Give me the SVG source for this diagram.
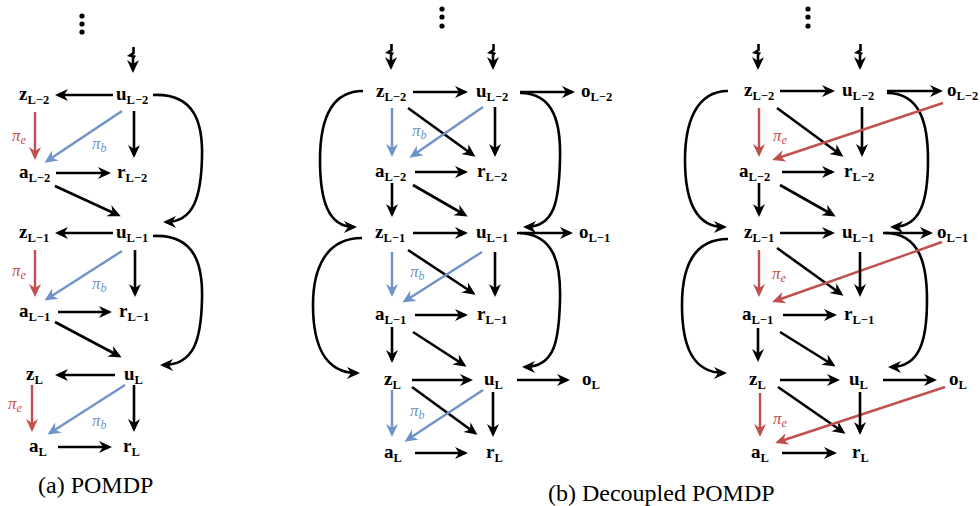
<svg xmlns="http://www.w3.org/2000/svg" width="980" height="506" viewBox="0 0 980 506">
<defs>
<marker id="hk" viewBox="-11 -7 15 14" refX="0" refY="0" markerWidth="15" markerHeight="14" markerUnits="userSpaceOnUse" orient="auto"><path d="M3,0 L-10,-6 L-6,0 L-10,6 Z" fill="#000"/></marker>
<marker id="hr" viewBox="-11 -7 15 14" refX="0" refY="0" markerWidth="15" markerHeight="14" markerUnits="userSpaceOnUse" orient="auto"><path d="M3,0 L-10,-6 L-6,0 L-10,6 Z" fill="#c0504d"/></marker>
<marker id="hb" viewBox="-11 -7 15 14" refX="0" refY="0" markerWidth="15" markerHeight="14" markerUnits="userSpaceOnUse" orient="auto"><path d="M3,0 L-10,-6 L-6,0 L-10,6 Z" fill="#6f93c8"/></marker>
</defs>
<style>
text{font-family:"Liberation Serif","Times New Roman","DejaVu Serif",serif}
.n{font-weight:bold;font-size:19px;fill:#000}
.s{font-size:12.5px}
.k{stroke:#000;stroke-width:2.6;fill:none;marker-end:url(#hk)}
.r{stroke:#c0504d;stroke-width:2.4;fill:none;marker-end:url(#hr)}
.b{stroke:#6f93c8;stroke-width:2.4;fill:none;marker-end:url(#hb)}
.pr{font-style:italic;font-size:17px;fill:#c0504d}
.pb{font-style:italic;font-size:17px;fill:#6f93c8}
.ps{font-size:12px}
.cap{font-size:24px;fill:#000}
.dot{fill:#000}
</style>

<g id="connectors">
<!-- panel a -->
<path class="k" d="M133.5,47 V53 L130,55.5 L134,56.5 L133,58 V70"/>
<path class="k" d="M113,95 H58"/>
<path class="k" d="M153,95 C196,93 203,125 202,158 C201,196 194,222 166,222"/>
<path class="r" d="M35,112 V157"/>
<path class="b" d="M122,111 L47,161"/>
<path class="k" d="M134,111 V155"/>
<path class="k" d="M56,173 H108"/>
<path class="k" d="M55,186 L118,215"/>
<path class="k" d="M113,233 H58"/>
<path class="r" d="M35,250 V294"/>
<path class="b" d="M122,251 L47,299"/>
<path class="k" d="M135,250 V294"/>
<path class="k" d="M58,312 H109"/>
<path class="k" d="M55,322 L119,356"/>
<path class="k" d="M153,236 C196,234 203,266 202,300 C201,340 194,365 163,365"/>
<path class="k" d="M115,375 H58"/>
<path class="r" d="M32,385 V429"/>
<path class="b" d="M125,385 L50,433"/>
<path class="k" d="M134,385 V429"/>
<path class="k" d="M58,447 H109"/>

<!-- panel b -->
<path class="k" d="M391.5,44 V50 L388,52.5 L392,53.5 L391,55 V67"/>
<path class="k" d="M493.5,44 V50 L490,52.5 L494,53.5 L493,55 V67"/>
<path class="k" d="M413,92 H465"/>
<path class="k" d="M520,92 H572"/>
<path class="k" d="M520,93 C555,93 561,125 560,160 C559,200 555,227 526,227"/>
<path class="k" d="M363,91 C328,91 320,125 320,160 C320,200 328,227 354,227"/>
<path class="b" d="M392,108 V154"/>
<path class="k" d="M408,108 L473,155"/>
<path class="b" d="M483,107 L412,156"/>
<path class="k" d="M495,107 V154"/>
<path class="k" d="M415,172 H465"/>
<path class="k" d="M392,183 V214"/>
<path class="k" d="M413,185 L465,215"/>
<path class="k" d="M413,233 H465"/>
<path class="k" d="M520,233 H570"/>
<path class="k" d="M517,233 C555,233 561,265 560,300 C559,340 555,367 525,367"/>
<path class="k" d="M362,238 C325,238 313,270 313,305 C313,345 325,373 357,373"/>
<path class="b" d="M392,252 V294"/>
<path class="k" d="M408,250 L473,293"/>
<path class="b" d="M482,252 L405,301"/>
<path class="k" d="M495,252 V294"/>
<path class="k" d="M415,315 H465"/>
<path class="k" d="M392,327 V360"/>
<path class="k" d="M413,332 L464,365"/>
<path class="k" d="M412,380 H470"/>
<path class="k" d="M517,380 H567"/>
<path class="b" d="M392,390 V434"/>
<path class="k" d="M412,387 L475,433"/>
<path class="b" d="M483,390 L407,440"/>
<path class="k" d="M493,392 V434"/>
<path class="k" d="M415,453 H465"/>

<!-- panel c -->
<path class="k" d="M758.5,44 V50 L755,52.5 L759,53.5 L758,55 V67"/>
<path class="k" d="M860.5,44 V50 L857,52.5 L861,53.5 L860,55 V67"/>
<path class="k" d="M780,91 H832"/>
<path class="k" d="M887,91 H940"/>
<path class="k" d="M887,93 C921,93 928,125 928,160 C928,200 921,227 893,227"/>
<path class="k" d="M728,91 C695,91 685,125 685,160 C685,200 695,227 724,227"/>
<path class="r" d="M759,108 V154"/>
<path class="k" d="M777,108 L841,155"/>
<path class="k" d="M862,107 V154"/>
<path class="r" d="M943,103 L775,159"/>
<path class="k" d="M782,172 H832"/>
<path class="k" d="M759,183 V214"/>
<path class="k" d="M780,185 L833,215"/>
<path class="k" d="M780,233 H832"/>
<path class="k" d="M883,233 H930"/>
<path class="k" d="M885,233 C920,233 927,265 927,300 C927,340 920,367 891,367"/>
<path class="k" d="M728,239 C692,239 682,270 682,305 C682,345 692,373 724,373"/>
<path class="r" d="M759,250 V294"/>
<path class="k" d="M777,248 L841,294"/>
<path class="r" d="M942,242 L775,301"/>
<path class="k" d="M860,252 V294"/>
<path class="k" d="M783,315 H834"/>
<path class="k" d="M758,328 V359"/>
<path class="k" d="M780,332 L833,365"/>
<path class="k" d="M780,380 H837"/>
<path class="k" d="M883,380 H934"/>
<path class="r" d="M760,393 V434"/>
<path class="k" d="M778,387 L843,432"/>
<path class="r" d="M945,387 L778,442"/>
<path class="k" d="M860,392 V432"/>
<path class="k" d="M782,453 H834"/>
</g>

<g id="dots">
<circle class="dot" cx="82" cy="16" r="2.6"/><circle class="dot" cx="82" cy="24" r="2.6"/><circle class="dot" cx="82" cy="32" r="2.6"/>
<circle class="dot" cx="442" cy="9" r="2.6"/><circle class="dot" cx="442" cy="17" r="2.6"/><circle class="dot" cx="442" cy="26" r="2.6"/>
<circle class="dot" cx="808" cy="9" r="2.6"/><circle class="dot" cx="808" cy="17" r="2.6"/><circle class="dot" cx="808" cy="26" r="2.6"/>
</g>

<g id="labels">
<text class="pr" x="12" y="141">π<tspan class="ps" dy="3">e</tspan></text>
<text class="pb" x="92" y="149">π<tspan class="ps" dy="3">b</tspan></text>
<text class="pr" x="12" y="276">π<tspan class="ps" dy="3">e</tspan></text>
<text class="pb" x="92" y="289">π<tspan class="ps" dy="3">b</tspan></text>
<text class="pr" x="8" y="409">π<tspan class="ps" dy="3">e</tspan></text>
<text class="pb" x="92" y="426">π<tspan class="ps" dy="3">b</tspan></text>
<text class="pb" x="412" y="136">π<tspan class="ps" dy="3">b</tspan></text>
<text class="pb" x="410" y="277">π<tspan class="ps" dy="3">b</tspan></text>
<text class="pb" x="410" y="416">π<tspan class="ps" dy="3">b</tspan></text>
<text class="pr" x="773" y="141">π<tspan class="ps" dy="3">e</tspan></text>
<text class="pr" x="772" y="279">π<tspan class="ps" dy="3">e</tspan></text>
<text class="pr" x="773" y="424">π<tspan class="ps" dy="3">e</tspan></text>
</g>

<!-- panel a nodes -->
<g id="a-zL2"><text class="n" x="19" y="100">z<tspan class="s" dy="4">L−2</tspan></text></g>
<g id="a-uL2"><text class="n" x="116" y="100">u<tspan class="s" dy="4">L−2</tspan></text></g>
<g id="a-aL2"><text class="n" x="19" y="178">a<tspan class="s" dy="4">L−2</tspan></text></g>
<g id="a-rL2"><text class="n" x="117" y="178">r<tspan class="s" dy="4">L−2</tspan></text></g>
<g id="a-zL1"><text class="n" x="19" y="238">z<tspan class="s" dy="4">L−1</tspan></text></g>
<g id="a-uL1"><text class="n" x="116" y="238">u<tspan class="s" dy="4">L−1</tspan></text></g>
<g id="a-aL1"><text class="n" x="19" y="317">a<tspan class="s" dy="4">L−1</tspan></text></g>
<g id="a-rL1"><text class="n" x="119" y="317">r<tspan class="s" dy="4">L−1</tspan></text></g>
<g id="a-zL"><text class="n" x="26" y="380">z<tspan class="s" dy="4">L</tspan></text></g>
<g id="a-uL"><text class="n" x="124" y="380">u<tspan class="s" dy="4">L</tspan></text></g>
<g id="a-aL"><text class="n" x="29" y="452">a<tspan class="s" dy="4">L</tspan></text></g>
<g id="a-rL"><text class="n" x="123" y="452">r<tspan class="s" dy="4">L</tspan></text></g>

<!-- panel b nodes -->
<g id="b-zL2"><text class="n" x="376" y="97">z<tspan class="s" dy="4">L−2</tspan></text></g>
<g id="b-uL2"><text class="n" x="476" y="97">u<tspan class="s" dy="4">L−2</tspan></text></g>
<g id="b-oL2"><text class="n" x="581" y="97">o<tspan class="s" dy="4">L−2</tspan></text></g>
<g id="b-aL2"><text class="n" x="375" y="177">a<tspan class="s" dy="4">L−2</tspan></text></g>
<g id="b-rL2"><text class="n" x="477" y="177">r<tspan class="s" dy="4">L−2</tspan></text></g>
<g id="b-zL1"><text class="n" x="375" y="238">z<tspan class="s" dy="4">L−1</tspan></text></g>
<g id="b-uL1"><text class="n" x="476" y="238">u<tspan class="s" dy="4">L−1</tspan></text></g>
<g id="b-oL1"><text class="n" x="579" y="238">o<tspan class="s" dy="4">L−1</tspan></text></g>
<g id="b-aL1"><text class="n" x="375" y="320">a<tspan class="s" dy="4">L−1</tspan></text></g>
<g id="b-rL1"><text class="n" x="477" y="320">r<tspan class="s" dy="4">L−1</tspan></text></g>
<g id="b-zL"><text class="n" x="384" y="385">z<tspan class="s" dy="4">L</tspan></text></g>
<g id="b-uL"><text class="n" x="484" y="385">u<tspan class="s" dy="4">L</tspan></text></g>
<g id="b-oL"><text class="n" x="582" y="385">o<tspan class="s" dy="4">L</tspan></text></g>
<g id="b-aL"><text class="n" x="384" y="458">a<tspan class="s" dy="4">L</tspan></text></g>
<g id="b-rL"><text class="n" x="486" y="458">r<tspan class="s" dy="4">L</tspan></text></g>

<!-- panel c nodes -->
<g id="c-zL2"><text class="n" x="744" y="96">z<tspan class="s" dy="4">L−2</tspan></text></g>
<g id="c-uL2"><text class="n" x="842" y="96">u<tspan class="s" dy="4">L−2</tspan></text></g>
<g id="c-oL2"><text class="n" x="947" y="96">o<tspan class="s" dy="4">L−2</tspan></text></g>
<g id="c-aL2"><text class="n" x="739" y="177">a<tspan class="s" dy="4">L−2</tspan></text></g>
<g id="c-rL2"><text class="n" x="844" y="177">r<tspan class="s" dy="4">L−2</tspan></text></g>
<g id="c-zL1"><text class="n" x="744" y="238">z<tspan class="s" dy="4">L−1</tspan></text></g>
<g id="c-uL1"><text class="n" x="842" y="238">u<tspan class="s" dy="4">L−1</tspan></text></g>
<g id="c-oL1"><text class="n" x="937" y="238">o<tspan class="s" dy="4">L−1</tspan></text></g>
<g id="c-aL1"><text class="n" x="742" y="320">a<tspan class="s" dy="4">L−1</tspan></text></g>
<g id="c-rL1"><text class="n" x="844" y="320">r<tspan class="s" dy="4">L−1</tspan></text></g>
<g id="c-zL"><text class="n" x="749" y="385">z<tspan class="s" dy="4">L</tspan></text></g>
<g id="c-uL"><text class="n" x="849" y="385">u<tspan class="s" dy="4">L</tspan></text></g>
<g id="c-oL"><text class="n" x="949" y="385">o<tspan class="s" dy="4">L</tspan></text></g>
<g id="c-aL"><text class="n" x="751" y="458">a<tspan class="s" dy="4">L</tspan></text></g>
<g id="c-rL"><text class="n" x="852" y="458">r<tspan class="s" dy="4">L</tspan></text></g>

<g id="captions">
<text class="cap" x="38" y="493">(a) POMDP</text>
<text class="cap" x="548" y="501">(b) Decoupled POMDP</text>
</g>
</svg>
